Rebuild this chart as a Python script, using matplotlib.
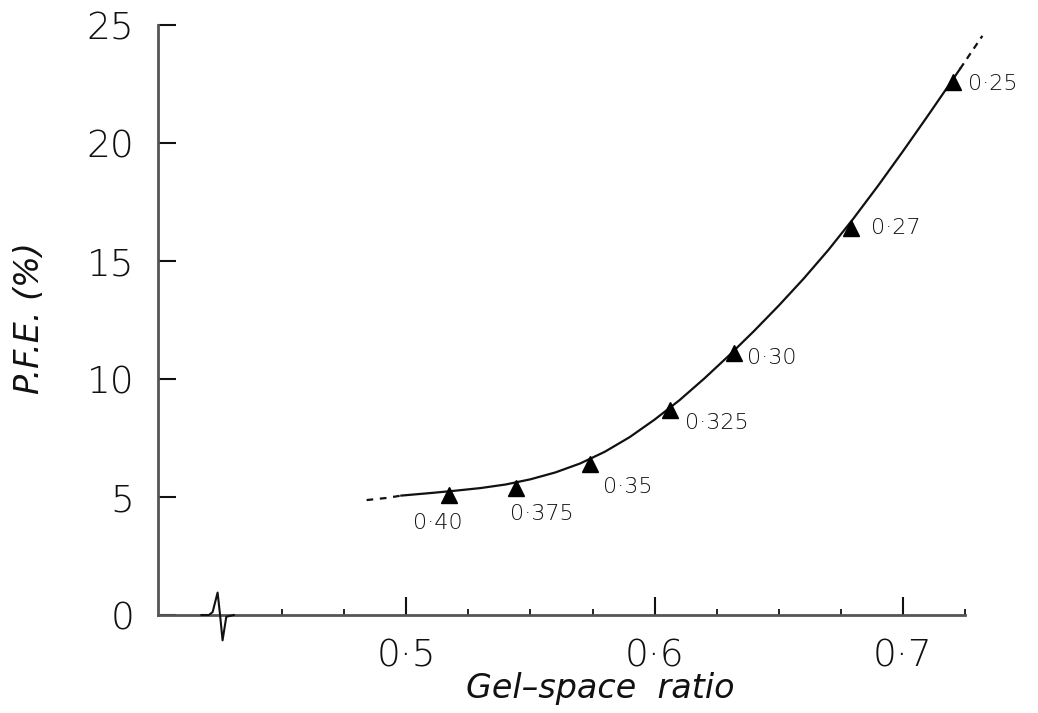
import numpy as np
import matplotlib
matplotlib.use('Agg')
import matplotlib.pyplot as plt
import matplotlib.transforms as mtransforms

# measured points: gel-space ratio vs P.F.E., each tagged with its w/c ratio
gel_space = [0.517, 0.544, 0.574, 0.606, 0.632, 0.679, 0.720]
pfe = [5.1, 5.4, 6.4, 8.7, 11.1, 16.4, 22.6]
wc_labels = ['0·40', '0·375', '0·35', '0·325', '0·30', '0·27', '0·25']

# hand-drawn trend curve, traced point by point
curve_x = [0.484, 0.492, 0.498, 0.51, 0.52, 0.53, 0.54, 0.55, 0.56, 0.57,
           0.58, 0.59, 0.60, 0.61, 0.62, 0.63, 0.64, 0.65, 0.66, 0.67,
           0.68, 0.69, 0.70, 0.71, 0.72, 0.723, 0.732]
curve_y = [4.87, 4.96, 5.06, 5.17, 5.27, 5.38, 5.53, 5.75, 6.04, 6.42,
           6.92, 7.54, 8.28, 9.10, 10.02, 11.00, 12.03, 13.11, 14.25, 15.47,
           16.79, 18.19, 19.65, 21.15, 22.68, 23.14, 24.54]

x_major = [0.5, 0.6, 0.7]
x_major_labels = ['0·5', '0·6', '0·7']
x_minor = [0.45, 0.475, 0.525, 0.55, 0.575, 0.625, 0.65, 0.675, 0.725]
y_major = [0, 5, 10, 15, 20, 25]

# label placement relative to each marker (pixels), and alignment
label_offsets = [(-11, -28), (26, -26), (13, -23), (15, -13), (13, -5), (20, 0), (15, -2)]
label_ha = ['center', 'center', 'left', 'left', 'left', 'left', 'left']

font = 'DejaVu Sans'
ink = '#111111'

fig = plt.figure(figsize=(10.38, 7.13), dpi=100)
ax = fig.add_axes([158 / 1038, 98 / 713, 807 / 1038, 590 / 713])

ax.set_xlim(0.4, 0.725)
ax.set_ylim(0, 25)

for s in ['top', 'right']:
    ax.spines[s].set_visible(False)
for s in ['left', 'bottom']:
    ax.spines[s].set_linewidth(2.0)
    ax.spines[s].set_color('#555555')

# curve: dashed at both ends, solid in between
cx = np.array(curve_x)
cy = np.array(curve_y)
ax.plot(cx[2:-1], cy[2:-1], color=ink, lw=1.6, clip_on=False, zorder=3)
ax.plot(cx[:3], cy[:3], color=ink, lw=1.6, ls=(0, (3, 3)), clip_on=False, zorder=3)
ax.plot(cx[-2:], cy[-2:], color=ink, lw=1.6, ls=(0, (3, 2.5)), clip_on=False, zorder=3)

ax.plot(gel_space, pfe, ls='none', marker='^', ms=12, color='black', zorder=4, clip_on=False)

for xv, yv, lab, off, ha in zip(gel_space, pfe, wc_labels, label_offsets, label_ha):
    ax.annotate(lab, (xv, yv), xytext=off, textcoords='offset pixels',
                ha=ha, va='center', fontsize=16, family=font, fontweight='light',
                color=ink)

# axis break squiggle on the x axis
brk = 0.4235
trans = mtransforms.blended_transform_factory(ax.transData, ax.transAxes)
bx = brk + np.array([-0.006, -0.003, -0.0015, 0.0005, 0.0015, 0.0025, 0.004, 0.007])
by = np.array([0.0, 0.0, 0.005, 0.038, 0.0, -0.043, -0.003, 0.0])
ax.plot(bx, by, color=ink, lw=1.5, transform=trans, clip_on=False, zorder=5)

ax.set_xticks(x_major)
ax.set_xticklabels(x_major_labels)
ax.set_xticks(x_minor, minor=True)
ax.set_yticks(y_major)
ax.set_yticklabels([str(v) for v in y_major])

ax.tick_params(axis='x', which='major', direction='in', length=13, width=1.5,
               pad=17, labelsize=27, colors=ink)
ax.tick_params(axis='x', which='minor', direction='in', length=4.5, width=1.3, colors=ink)
ax.tick_params(axis='y', which='major', direction='in', length=13, width=1.5,
               pad=17, labelsize=27, colors=ink)
for t in ax.get_xticklabels() + ax.get_yticklabels():
    t.set_family(font)
    t.set_fontweight('light')

ax.set_xlabel('Gel–space  ratio', fontsize=24, family=font, style='italic',
              fontweight='light', color=ink)
ax.xaxis.set_label_coords(0.548, -0.124)
ax.xaxis.label.set_va('center')
ax.set_ylabel('P.F.E. (%)', fontsize=24, family=font, style='italic',
              fontweight='light', color=ink)
ax.yaxis.set_label_coords(-0.159, 0.503)
ax.yaxis.label.set_va('center')

fig.savefig('out.png', dpi=100)
